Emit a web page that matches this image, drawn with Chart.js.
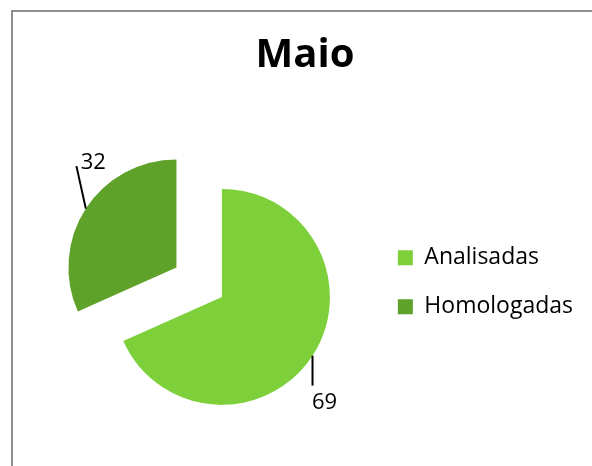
<!DOCTYPE html>
<html><head><meta charset="utf-8">
<script src="https://cdn.jsdelivr.net/npm/chart.js@4"></script>
<style>
html,body{margin:0;padding:0;background:#fff;overflow:hidden;width:592px;height:466px;}
#frame{position:absolute;left:11px;top:10px;width:600px;height:480px;border-left:2px solid #8e8e8e;border-top:2px solid #8e8e8e;}
canvas{position:absolute;left:0;top:0;}
</style></head><body>
<div id="frame"><canvas id="c" width="580" height="480" style="width:580px;height:480px"></canvas></div>
<script>
// ---- data ----
const chartTitle = 'Maio';
const categories = ['Analisadas', 'Homologadas'];
const values = [69, 32];

// ---- style ----
const colors = ['#7ED03B', '#5FA229'];
const explode = [26.8, 27.4];           // px each slice is pulled out along its mid-angle
const labelLayout = [                   // leader line end and text centre, relative to slice edge
  {line: [0, 30],       text: [12, 47]},
  {line: [-9.4, -42.5], text: [7.4, -46]}
];
const FONT = '"Open Sans", "DejaVu Sans", sans-serif';

const explodePlugin = {
  id: 'explode',
  beforeDatasetDraw(chart, args) {
    const ctx = chart.ctx;
    args.meta.data.forEach((arc, i) => {
      const mid = (arc.startAngle + arc.endAngle) / 2;
      const d = explode[i] || 0;
      ctx.save();
      ctx.translate(Math.cos(mid) * d, Math.sin(mid) * d);
      arc.draw(ctx);
      ctx.restore();
    });
    return false;
  }
};

const labelPlugin = {
  id: 'outLabels',
  afterDatasetsDraw(chart) {
    const ctx = chart.ctx;
    const meta = chart.getDatasetMeta(0);
    meta.data.forEach((arc, i) => {
      const mid = (arc.startAngle + arc.endAngle) / 2;
      const d = explode[i] || 0;
      const ex = arc.x + Math.cos(mid) * (d + arc.outerRadius);
      const ey = arc.y + Math.sin(mid) * (d + arc.outerRadius);
      const L = labelLayout[i];
      ctx.save();
      ctx.strokeStyle = '#000';
      ctx.lineWidth = 2;
      ctx.beginPath();
      ctx.moveTo(ex, ey);
      ctx.lineTo(ex + L.line[0], ey + L.line[1]);
      ctx.stroke();
      ctx.fillStyle = '#000';
      ctx.font = '22px ' + FONT;
      ctx.textAlign = 'center';
      ctx.textBaseline = 'middle';
      ctx.fillText(String(chart.data.datasets[0].data[i]), ex + L.text[0], ey + L.text[1]);
      ctx.restore();
    });
  }
};

new Chart(document.getElementById('c'), {
  type: 'pie',
  data: {
    labels: categories,
    datasets: [{
      data: values,
      backgroundColor: colors,
      borderWidth: 0,
      radius: 108
    }]
  },
  options: {
    responsive: false,
    animation: false,
    events: [],
    layout: {padding: {left: 14, right: 10, top: 0, bottom: 17}},
    plugins: {
      title: {
        display: true,
        text: chartTitle,
        color: '#000',
        font: {family: FONT, size: 40, weight: 'bold'},
        padding: {top: 19.6, bottom: 10}
      },
      legend: {
        position: 'right',
        fullSize: false,
        labels: {
          color: '#000',
          font: {family: FONT, size: 23},
          boxWidth: 15,
          boxHeight: 15,
          padding: 26
        }
      },
      tooltip: {enabled: false}
    }
  },
  plugins: [explodePlugin, labelPlugin]
});
</script>
</body></html>
